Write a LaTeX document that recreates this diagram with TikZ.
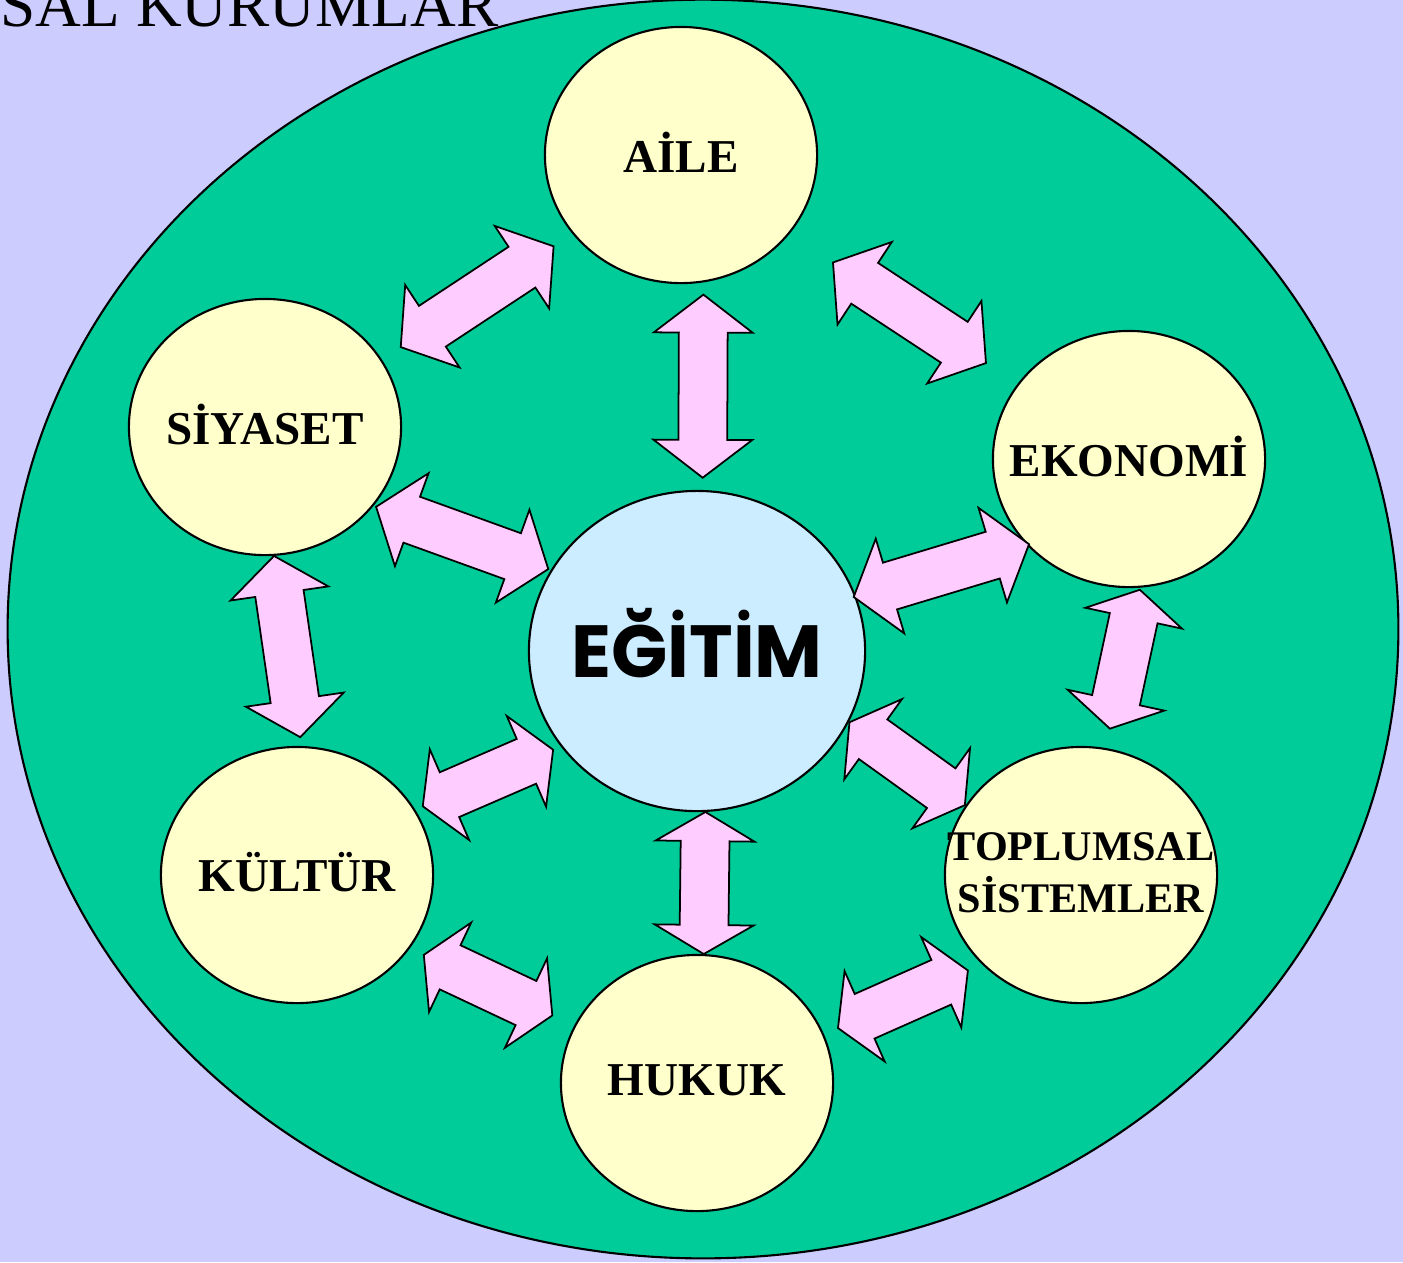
\documentclass[tikz,border=0pt]{standalone}
\usepackage{fontspec}
\setmainfont{Liberation Serif}
\newfontfamily\comicfont{Poppins}
\usetikzlibrary{shapes.geometric,shapes.arrows}

\definecolor{zemin}{HTML}{CCCCFF}
\definecolor{yesil}{HTML}{00CC99}
\definecolor{sari}{HTML}{FFFFCC}
\definecolor{mavi}{HTML}{CCECFF}
\definecolor{pembe}{HTML}{FFCCFF}

\begin{document}
\begin{tikzpicture}[x=0.01cm,y=-0.01cm,
    kurum/.style={ellipse,draw,line width=0.6pt,fill=sari,minimum width=2.72cm,minimum height=2.56cm,inner sep=0pt},
    yazi/.style={inner sep=0pt,align=center,yshift=0.025cm,font=\fontsize{13.4}{16}\selectfont\bfseries},
    ok/.style={double arrow,draw,line width=0.5pt,fill=pembe,sloped,inner sep=0pt,inner ysep=0.235cm,
      double arrow head extend=0.25cm,minimum width=0.97cm,minimum height=1.83cm,double arrow tip angle=105},
    kisaok/.style={ok,minimum height=1.42cm,double arrow tip angle=119}]
  \useasboundingbox (0,0) rectangle (1403,1262);
  \clip (0,0) rectangle (1403,1262);
  \fill[zemin] (0,0) rectangle (1403,1262);
  \draw[line width=0.6pt,fill=yesil] (703,629) ellipse [x radius=6.95cm,y radius=6.29cm];
  \node[anchor=base west,inner sep=0pt,font=\fontsize{18}{20}\selectfont] (baslik) at (0,26) {SAL KURUMLAR};

  % kurumlar
  \node[kurum] (aile) at (681,155) {};
  \node[kurum] (siyaset) at (265,427) {};
  \node[kurum] (ekonomi) at (1129,459) {};
  \node[kurum] (kultur) at (297,875) {};
  \node[kurum] (toplumsal) at (1081,875) {};
  \node[kurum] (hukuk) at (697,1083) {};
  \node[kurum,fill=mavi,minimum width=3.36cm,minimum height=3.2cm] (egitim) at (697,651) {};

  \node[yazi] (aile-yazi) at (aile) {AİLE};
  \node[yazi] (siyaset-yazi) at (siyaset) {SİYASET};
  \node[yazi] (ekonomi-yazi) at (ekonomi) {EKONOMİ};
  \node[yazi] (kultur-yazi) at (kultur) {KÜLTÜR};
  \node[yazi,font=\fontsize{12}{14.8}\selectfont\bfseries] (toplumsal-yazi) at (toplumsal) {TOPLUMSAL\\SİSTEMLER};
  \node[yazi] (hukuk-yazi) at (hukuk) {HUKUK};
  \node[yazi,font=\comicfont\bfseries\fontsize{21}{24}\selectfont] (egitim-yazi) at (697,646) {EĞİTİM};

  % oklar
  \path (aile.-144) -- node[ok] (aile-siyaset) {} (siyaset.30);
  \path (aile.-36) -- node[ok,pos=0.526] (aile-ekonomi) {} (ekonomi.146);
  \path (aile.-80) -- node[ok] (aile-egitim) {} (egitim.88);
  \path (siyaset.-36) -- node[ok] (siyaset-egitim) {} (egitim.151);
  \path (ekonomi.-140) -- node[ok] (ekonomi-egitim) {} (egitim.19);
  \path (siyaset.-86) -- node[ok,pos=0.477] (siyaset-kultur) {} (kultur.88);
  \path (ekonomi.-85) -- node[kisaok,pos=0.446] (ekonomi-toplumsal) {} (toplumsal.79);
  \path (egitim.-25) -- node[kisaok] (egitim-toplumsal) {} (toplumsal.149);
  \path (egitim.-145) -- node[kisaok] (egitim-kultur) {} (kultur.29);
  \path (egitim.-87) -- node[kisaok] (egitim-hukuk) {} (hukuk.87);
  \path (kultur.-33) -- node[kisaok,pos=0.476] (kultur-hukuk) {} (hukuk.155);
  \path (toplumsal.-138) -- node[kisaok] (toplumsal-hukuk) {} (hukuk.21);
\end{tikzpicture}
\end{document}
